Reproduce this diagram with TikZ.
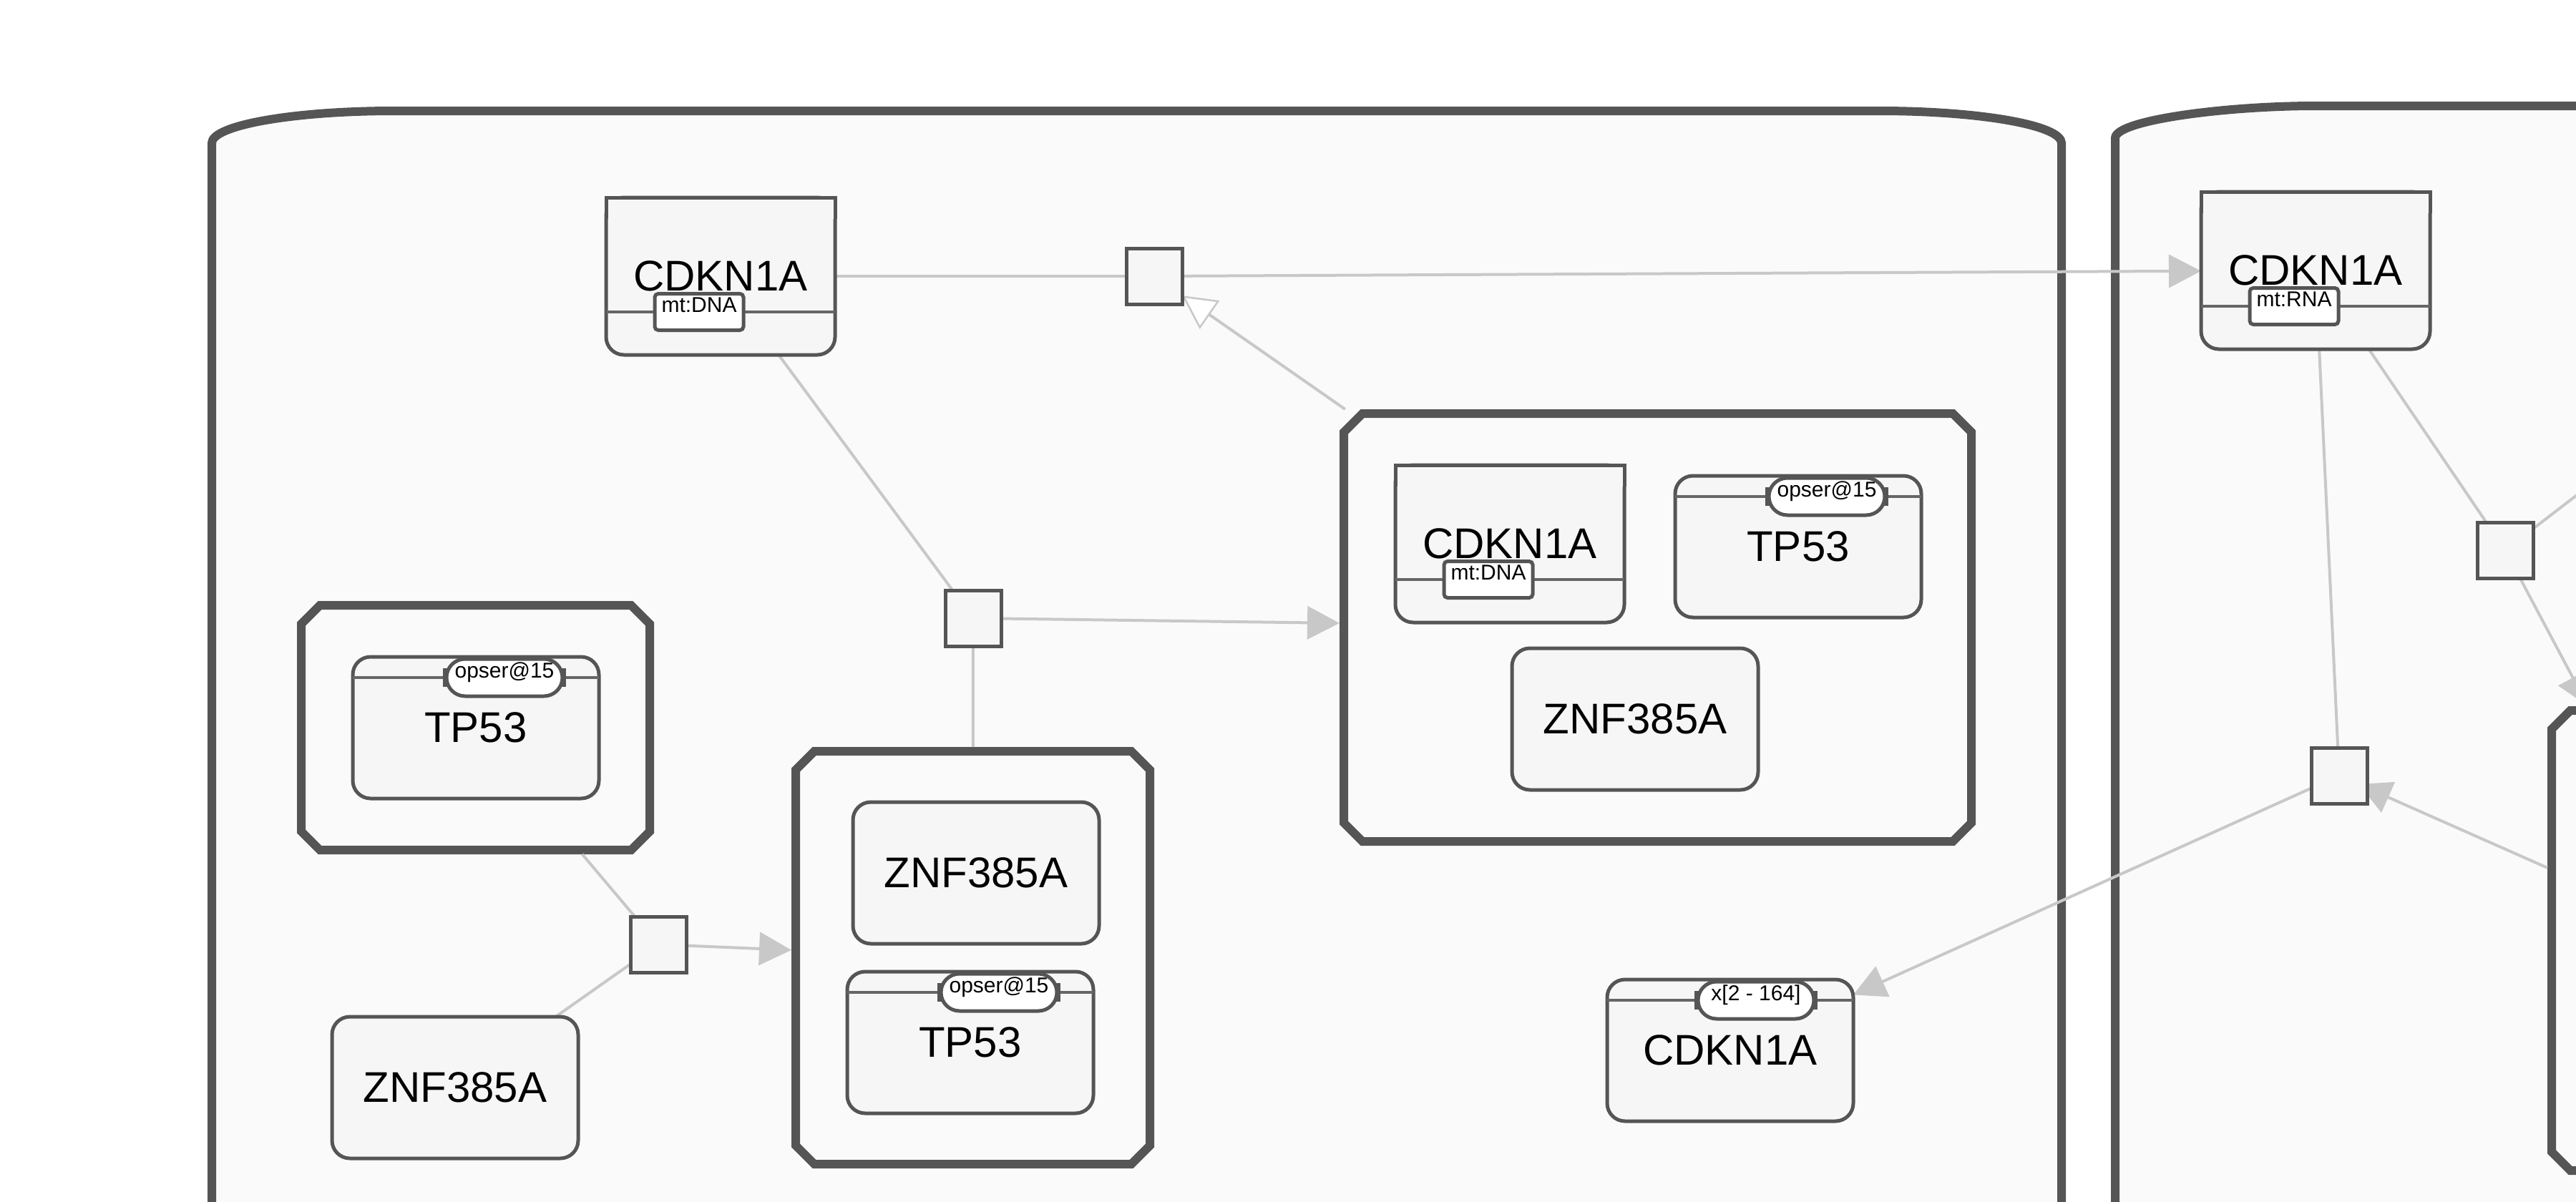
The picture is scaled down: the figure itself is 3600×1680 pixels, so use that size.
\documentclass[tikz,border=0pt]{standalone}
\usepackage{fontspec}
\setmainfont{Liberation Sans}
\usetikzlibrary{arrows.meta,calc,fit}
\definecolor{dkgray}{HTML}{555555}
\definecolor{linkgray}{HTML}{C8C8C8}
\definecolor{compfill}{HTML}{FAFAFA}
\definecolor{nodefill}{HTML}{F6F6F6}
\definecolor{sepgray}{HTML}{666666}
\newcommand{\lblfont}{\fontsize{12pt}{14pt}\selectfont}
\newcommand{\svfont}{\fontsize{6pt}{7pt}\selectfont}
\pgfdeclarelayer{back}
\pgfdeclarelayer{links}
\pgfsetlayers{back,links,main}
\tikzset{
  comp/.style={draw=dkgray, line width=2.4pt, fill=compfill},
  cplxline/.style={draw=dkgray, line width=2.4pt, fill=compfill, line join=miter},
  cplx/.style={inner sep=0pt, outer sep=1.2pt},
  mmol/.style={draw=dkgray, line width=1pt, fill=nodefill, rounded corners=5pt, minimum width=68.8pt, minimum height=39.6pt, inner sep=0pt, outer sep=0pt, font=\lblfont},
  nafeat/.style={mmol, minimum width=64pt, minimum height=44pt},
  sv/.style={draw=dkgray, line width=1pt, fill=white, rounded corners=5.2pt, minimum width=32.4pt, minimum height=10.4pt, inner sep=0pt, outer sep=0pt, text height=4.4pt, text depth=4.4pt, font=\svfont},
  ui/.style={sv, rounded corners=1pt, minimum width=24.8pt, minimum height=10.2pt},
  proc/.style={draw=dkgray, line width=1pt, fill=nodefill, minimum size=15.6pt, inner sep=0pt, outer sep=0pt},
  sepline/.style={draw=sepgray, line width=0.7pt},
  lnk/.style={draw=linkgray, line width=0.8pt},
  prod/.style={lnk, -{Triangle[length=9pt, width=9.2pt]}},
  stim/.style={lnk, -{Triangle[open, length=9.4pt, width=9.6pt, fill=white, line width=0.5pt]}}
}
\begin{document}
\begin{tikzpicture}[x=0.2pt,y=0.2pt,yscale=-1,xscale=1]
\useasboundingbox (0,0) rectangle (3600,1680);

\begin{pgfonlayer}{back}
\fill[white] (0,0) rectangle (3600,1680);
%Shape: Compartment
\draw[comp] (296,1760) -- (296,200) .. controls (296,175) and (410,155) .. (551,155) -- (2626,155) .. controls (2767,155) and (2881,175) .. (2881,200) -- (2881,1760) -- cycle;
%Shape: Compartment
\draw[comp] (2956,1760) -- (2956,193) .. controls (2956,168) and (3110,148) .. (3236,148) -- (3700,148) -- (3700,1760) -- cycle;
\end{pgfonlayer}

%Shape: Complex
\foreach \c/\xa/\ya/\xb/\yb in {cplxA/421/846/908/1188,cplxB/1112/1050/1607/1627,cplxC/1878/578/2755/1176,cplxR/3566/993/4014/1636}{
  \node[cplx, fit={(\xa,\ya) (\xb,\yb)}] (\c) {};
  \begin{pgfonlayer}{back}
    \draw[cplxline] (\xa+26,\ya) -- (\xb-26,\ya) -- (\xb,\ya+26) -- (\xb,\yb-26) -- (\xb-26,\yb) -- (\xa+26,\yb) -- (\xa,\yb-26) -- (\xa,\ya+26) -- cycle;
  \end{pgfonlayer}
}

% Text Node
\node[mmol] (tp53A) at (665,1017) {TP53};
\node[mmol] (znfB) at (636,1520) {ZNF385A};
\node[mmol] (znfA) at (1364,1220) {ZNF385A};
\node[mmol] (tp53B) at (1356,1457) {TP53};
\node[nafeat] (dnaA) at (1007,386) {CDKN1A};
\node[nafeat] (dnaB) at (2110,760) {CDKN1A};
\node[mmol] (tp53C) at (2513,764) {TP53};
\node[mmol] (znfC) at (2285,1005) {ZNF385A};
\node[mmol] (cdknX) at (2418,1468) {CDKN1A};
\node[nafeat] (rnaA) at (3236,378) {CDKN1A};

%Shape: square top corners
\foreach \n in {dnaA,dnaB,rnaA}
  \filldraw[fill=nodefill, draw=dkgray, line width=1pt] ($(\n.north west)+(0,30)$) -- (\n.north west) -- (\n.north east) -- ($(\n.north east)+(0,30)$);

%Straight Lines
\foreach \n in {tp53A,tp53B,tp53C,cdknX}
  \draw[sepline] ($(\n.north west)+(0,29)$) -- ($(\n.north east)+(0,29)$);
\foreach \n in {dnaA,dnaB,rnaA}
  \draw[sepline] ($(\n.south west)+(0,-60)$) -- ($(\n.south east)+(0,-60)$);

% Text Node
\node[sv] (svA) at ($(tp53A.north)+(40,29)$) {opser@15};
\node[sv] (svB) at ($(tp53B.north)+(40,29)$) {opser@15};
\node[sv] (svC) at ($(tp53C.north)+(40,29)$) {opser@15};
\node[sv] (svD) at ($(cdknX.north)+(36,29)$) {x[2 - 164]};
\foreach \s in {svA,svB,svC,svD}{
  \fill[dkgray] ($(\s.west)+(-5,-13)$) rectangle ($(\s.west)+(2,13)$);
  \fill[dkgray] ($(\s.east)+(-2,-13)$) rectangle ($(\s.east)+(5,13)$);
}
\node[ui] (uiA) at ($(dnaA.south)+(-30,-60)$) {mt:DNA};
\node[ui] (uiB) at ($(dnaB.south)+(-30,-60)$) {mt:DNA};
\node[ui] (uiC) at ($(rnaA.south)+(-30,-60)$) {mt:RNA};

%Shape: Process
\node[proc] (p1) at (1613,386) {};
\node[proc] (p2) at (1360,864) {};
\node[proc] (p3) at (920,1320) {};
\node[proc] (p4) at (3501,769) {};
\node[proc] (p5) at (3269,1084) {};
\coordinate (offNE) at (3700,616);

\begin{pgfonlayer}{links}
%Straight Lines
\draw[lnk] (dnaA) -- (p1);
\draw[prod] (p1) -- (rnaA);
\draw[stim] (cplxC) -- (p1);
\draw[lnk] (dnaA) -- (p2);
\draw[lnk] (p2) -- (cplxB);
\draw[prod] (p2) -- (cplxC);
\draw[lnk] (cplxA) -- (p3);
\draw[lnk] (znfB) -- (p3);
\draw[prod] (p3) -- (cplxB);
\draw[lnk] (rnaA) -- (p4);
\draw[lnk] (offNE) -- (p4);
\draw[prod] (p4) -- (cplxR);
\draw[lnk] (rnaA) -- (p5);
\draw[prod] (p5) -- (cdknX);
\draw[prod, shorten >=6pt] (cplxR) -- (p5.center);
\end{pgfonlayer}

\end{tikzpicture}
\end{document}
